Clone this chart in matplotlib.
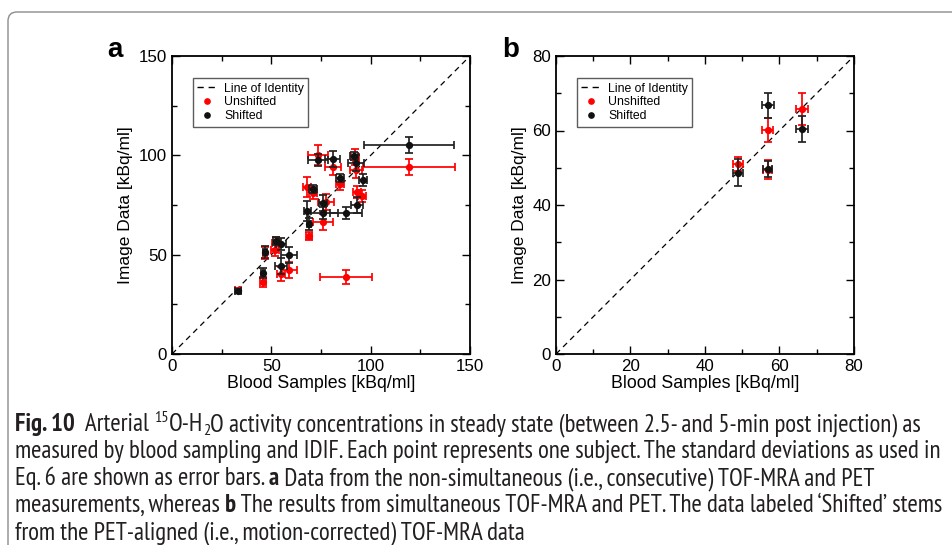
import matplotlib
matplotlib.use("Agg")
import matplotlib.pyplot as plt
from matplotlib.patches import FancyBboxPatch
from matplotlib.transforms import IdentityTransform
from matplotlib import font_manager

# ---------------- data: panel a (non-simultaneous) ----------------
a_unshift_x = [33.0, 45.8, 47.0, 52.2, 52.0, 54.8, 58.7, 69.1, 68.1, 71.0, 76.2,
               77.5, 73.6, 80.9, 84.8, 87.5, 92.0, 92.4, 93.3, 95.8, 119.3]
a_unshift_y = [32.0, 36.4, 51.0, 55.7, 52.5, 40.3, 42.3, 59.5, 84.0, 80.9, 66.6,
               76.5, 100.2, 94.3, 85.6, 38.9, 99.0, 92.6, 81.5, 79.7, 94.3]
a_unshift_xerr = [1.5, 1.5, 1.0, 2.0, 2.0, 2.0, 4.0, 1.5, 2.0, 2.0, 5.0,
                  4.0, 5.0, 4.0, 2.0, 13.0, 2.0, 3.0, 2.0, 2.0, 23.0]
a_unshift_yerr = [1.0, 2.5, 3.0, 3.0, 3.0, 3.5, 4.0, 2.0, 5.0, 3.0, 4.0,
                  4.0, 5.0, 4.0, 3.0, 3.5, 4.0, 4.0, 3.0, 3.0, 4.0]

a_shift_x = [33.1, 45.8, 47.0, 52.5, 55.0, 54.7, 58.8, 69.0, 68.2, 71.0, 76.0,
             75.8, 73.6, 80.8, 84.8, 87.4, 91.8, 92.6, 96.0, 93.3, 119.2]
a_shift_y = [31.7, 40.6, 51.3, 57.0, 55.5, 44.3, 49.8, 65.5, 72.0, 83.2, 70.8,
             76.0, 97.8, 98.0, 88.8, 71.1, 99.7, 96.0, 87.6, 75.0, 105.4]
a_shift_xerr = [1.5, 1.2, 1.0, 1.5, 2.5, 3.0, 4.0, 1.0, 2.0, 2.0, 7.5,
                2.0, 5.0, 4.0, 2.0, 8.0, 2.0, 4.0, 2.0, 3.0, 22.5]
a_shift_yerr = [1.0, 2.5, 3.0, 2.0, 3.0, 4.0, 4.0, 3.0, 5.0, 2.0, 3.0,
                4.0, 3.0, 4.0, 2.0, 3.0, 2.0, 4.0, 3.0, 4.0, 4.0]

# ---------------- data: panel b (simultaneous) ----------------
b_unshift_x = [48.8, 56.8, 56.8, 66.0]
b_unshift_y = [51.0, 60.1, 49.5, 65.8]
b_unshift_xerr = [1.3, 1.5, 1.3, 1.7]
b_unshift_yerr = [2.0, 3.2, 2.5, 4.3]

b_shift_x = [48.8, 57.0, 56.8, 66.0]
b_shift_y = [48.7, 66.8, 49.6, 60.4]
b_shift_xerr = [1.3, 1.6, 1.3, 1.6]
b_shift_yerr = [3.6, 3.4, 2.2, 3.5]

legend_labels = ["Line of Identity", "Unshifted", "Shifted"]
xlabel = "Blood Samples [kBq/ml]"
ylabel = "Image Data [kBq/ml]"

caption_lines = [
    [("Fig. 10", "bold", "n"), ("  Arterial ", "normal", "n"),
     ("15", "normal", "sup"), ("O-H", "normal", "n"), ("2", "normal", "sub"),
     ("O activity concentrations in steady state (between 2.5- and 5-min post injection) as", "normal", "n")],
    [("measured by blood sampling and IDIF. Each point represents one subject. The standard deviations as used in", "normal", "n")],
    [("Eq. 6 are shown as error bars. ", "normal", "n"), ("a", "bold", "n"),
     (" Data from the non-simultaneous (i.e., consecutive) TOF-MRA and PET", "normal", "n")],
    [("measurements, whereas ", "normal", "n"), ("b", "bold", "n"),
     (" The results from simultaneous TOF-MRA and PET. The data labeled \u2018Shifted\u2019 stems", "normal", "n")],
    [("from the PET-aligned (i.e., motion-corrected) TOF-MRA data", "normal", "n")],
]

# ---------------- fonts ----------------
avail = {f.name for f in font_manager.fontManager.ttflist}


def pick(cands, default):
    for c in cands:
        if c in avail:
            return c
    return default


plot_font = pick(["Liberation Sans", "Arimo", "Helvetica", "Arial"], "DejaVu Sans")
cap_font = pick(["Myriad Pro", "PT Sans Narrow", "Roboto Condensed", "Fira Sans Condensed",
                 "Open Sans Condensed", "IBM Plex Sans Condensed", "Liberation Sans Narrow"],
                plot_font)
plt.rcParams["font.family"] = [plot_font, "DejaVu Sans"]

W, H = 953, 545
fig = plt.figure(figsize=(W / 100, H / 100), dpi=100)
fig.patch.set_facecolor("white")

# outer rounded frame
frame = FancyBboxPatch((8, -30), 1000, H - 12 + 30,
                       boxstyle="round,pad=0,rounding_size=9",
                       transform=IdentityTransform(), facecolor="none",
                       edgecolor="#8c8c8c", linewidth=1.0)
fig.add_artist(frame)


def ax_rect(l, t, r, b):
    return [l / W, 1 - b / H, (r - l) / W, (b - t) / H]


axA = fig.add_axes(ax_rect(172, 56, 470, 354))
axB = fig.add_axes(ax_rect(556, 56, 854, 354))

RED = "#ff0000"
BLK = "#111111"


def style_axis(ax, lim, major, minor):
    ax.set_xlim(0, lim)
    ax.set_ylim(0, lim)
    ax.set_xticks(major)
    ax.set_yticks(major)
    ax.set_xticks(minor, minor=True)
    ax.set_yticks(minor, minor=True)
    ax.tick_params(which="both", direction="in", top=True, right=True,
                   labelsize=12.2, width=1.0, colors="black")
    ax.tick_params(which="major", length=6, pad=3.5)
    ax.tick_params(which="minor", length=3.5)
    for s in ax.spines.values():
        s.set_linewidth(1.3)
    ax.set_xlabel(xlabel, fontsize=12.8, labelpad=1)
    ax.set_ylabel(ylabel, fontsize=12.5, labelpad=4)


def draw_panel(ax, lim, ux, uy, uxe, uye, sx, sy, sxe, sye):
    ax.plot([0, lim], [0, lim], linestyle=(0, (4.5, 3.5)), color="black",
            linewidth=0.9, zorder=1)
    ax.errorbar(ux, uy, xerr=uxe, yerr=uye, fmt="o", color=RED, ecolor=RED,
                markersize=4.2, elinewidth=1.25, capsize=3.2, capthick=1.25,
                zorder=2)
    ax.errorbar(sx, sy, xerr=sxe, yerr=sye, fmt="o", color=BLK, ecolor="#222222",
                markersize=4.2, elinewidth=1.25, capsize=3.2, capthick=1.25,
                zorder=3)
    h_red = plt.Line2D([], [], linestyle="none", marker="o", color=RED, markersize=3.8)
    h_blk = plt.Line2D([], [], linestyle="none", marker="o", color=BLK, markersize=3.8)
    h_ln = plt.Line2D([], [], linestyle=(0, (4.5, 3.5)), color="black", linewidth=1.0)
    leg = ax.legend([h_ln, h_red, h_blk], legend_labels, loc="upper left",
                    bbox_to_anchor=(0.07, 0.925), fontsize=8.8, frameon=True,
                    fancybox=False, edgecolor="#333333", handlelength=1.6,
                    handletextpad=0.6, borderpad=0.35, labelspacing=0.15,
                    borderaxespad=0)
    leg.get_frame().set_linewidth(1.0)


draw_panel(axA, 150, a_unshift_x, a_unshift_y, a_unshift_xerr, a_unshift_yerr,
           a_shift_x, a_shift_y, a_shift_xerr, a_shift_yerr)
style_axis(axA, 150, [0, 50, 100, 150], [25, 75, 125])
draw_panel(axB, 80, b_unshift_x, b_unshift_y, b_unshift_xerr, b_unshift_yerr,
           b_shift_x, b_shift_y, b_shift_xerr, b_shift_yerr)
style_axis(axB, 80, [0, 20, 40, 60, 80], [10, 30, 50, 70])

fig.text(107 / W, 1 - 57 / H, "a", fontsize=20, fontweight="bold", ha="left", va="baseline")
fig.text(502 / W, 1 - 57 / H, "b", fontsize=20, fontweight="bold", ha="left", va="baseline")

# ---------------- caption ----------------
renderer = fig.canvas.get_renderer()


def text_width(s, size, weight):
    t = fig.text(0, 0, "|" + s + "|", fontsize=size, fontweight=weight, family=cap_font)
    w1 = t.get_window_extent(renderer).width
    t.remove()
    t = fig.text(0, 0, "||", fontsize=size, fontweight=weight, family=cap_font)
    w0 = t.get_window_extent(renderer).width
    t.remove()
    return w1 - w0


base = 12.0
target = 942 - 15
w = text_width(caption_lines[1][0][0], base, "normal")
cap_size = base * target / w

CAP_COL = "#231f20"
x0 = 15
baselines = [431, 458, 485, 512, 539]
for line, yb in zip(caption_lines, baselines):
    cx = x0
    for s, weight, pos in line:
        size = cap_size
        dy = 0
        if pos == "sup":
            size = cap_size * 0.65
            dy = cap_size * 1.389 * 0.38
        elif pos == "sub":
            size = cap_size * 0.65
            dy = -cap_size * 1.389 * 0.15
        fig.text(cx / W, (H - yb + dy) / H, s, fontsize=size, fontweight=weight,
                 family=cap_font, color=CAP_COL, ha="left", va="baseline")
        cx += text_width(s, size, weight)

fig.savefig("out.png", dpi=100, facecolor="white")
